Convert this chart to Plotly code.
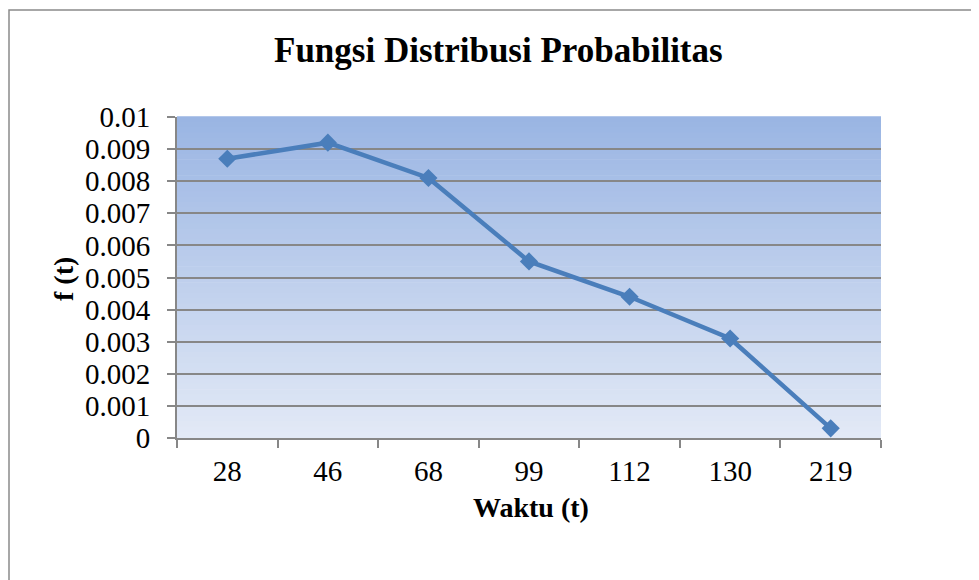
import plotly.graph_objects as go

categories = ["28", "46", "68", "99", "112", "130", "219"]
values = [0.0087, 0.0092, 0.0081, 0.0055, 0.0044, 0.0031, 0.0003]
y_tick_vals = [0, 0.001, 0.002, 0.003, 0.004, 0.005, 0.006, 0.007, 0.008, 0.009, 0.01]
y_tick_text = ["0", "0.001", "0.002", "0.003", "0.004", "0.005", "0.006", "0.007", "0.008", "0.009", "0.01"]

FONT = "Liberation Serif"
LINE_BLUE = "rgb(74,126,187)"
GRID = "#878787"

# page body has an 8px margin; work in figure coords (page coords minus 8)
OFF = 8
W, H = 979 - OFF, 580 - OFF
L, R, T, B = 177 - OFF, 98, 117 - OFF, 142
PW, PH = W - L - R, H - T - B


def px(xp):
    return (xp - OFF - L) / PW


def py(yp):
    return (H - B - (yp - OFF)) / PH


fig = go.Figure()
fig.add_trace(go.Scatter(
    x=categories, y=values, mode="lines+markers",
    line=dict(color=LINE_BLUE, width=4.5),
    marker=dict(symbol="diamond", size=14, color=LINE_BLUE),
    showlegend=False, hoverinfo="x+y",
))

# vertical gradient background for plot area
shapes = []
n = 60
top = (154, 181, 227)
bot = (226, 233, 246)
for i in range(n):
    t = i / (n - 1)
    c = tuple(round(top[k] + (bot[k] - top[k]) * t) for k in range(3))
    shapes.append(dict(
        type="rect", xref="x domain", yref="y domain",
        x0=0, x1=1, y0=1 - (i + 1) / n, y1=1 - i / n + 0.002,
        fillcolor="rgb(%d,%d,%d)" % c, line=dict(width=0), layer="below",
    ))
# outer chart border (left and top visible)
shapes.append(dict(
    type="rect", xref="paper", yref="paper",
    x0=px(9), x1=px(1000), y0=py(600), y1=py(10),
    line=dict(color="#8a8a8a", width=1.5), fillcolor="rgba(0,0,0,0)", layer="below",
))

fig.update_layout(
    width=W, height=H,
    margin=dict(l=L, r=R, t=T, b=B),
    paper_bgcolor="white", plot_bgcolor="rgba(0,0,0,0)",
    font=dict(family=FONT, size=29, color="black"),
    shapes=shapes,
    annotations=[
        dict(text="<b>Fungsi Distribusi Probabilitas</b>", xref="paper", yref="paper",
             x=px(498), y=py(50), xanchor="center", yanchor="middle",
             showarrow=False, font=dict(size=35, family=FONT, color="black")),
        dict(text="<b>Waktu (t)</b>", xref="paper", yref="paper",
             x=px(531), y=py(507), xanchor="center", yanchor="middle",
             showarrow=False, font=dict(size=28, family=FONT, color="black")),
        dict(text="<b>f (t)</b>", xref="paper", yref="paper", textangle=-90,
             x=px(63), y=py(279), xanchor="center", yanchor="middle",
             showarrow=False, font=dict(size=28, family=FONT, color="black")),
    ],
    xaxis=dict(
        type="category", range=[-0.5, 6.5], tickson="boundaries",
        ticks="outside", ticklen=8, tickwidth=2, tickcolor=GRID,
        showline=True, linecolor=GRID, linewidth=2,
        showgrid=False, zeroline=False, ticklabelstandoff=6,
        tickfont=dict(size=29, family=FONT, color="black"),
    ),
    yaxis=dict(
        range=[0, 0.01], tickvals=y_tick_vals, ticktext=y_tick_text,
        ticks="outside", ticklen=8, tickwidth=2, tickcolor=GRID,
        showline=True, linecolor=GRID, linewidth=2,
        showgrid=True, gridcolor=GRID, gridwidth=2, zeroline=False,
        ticklabelstandoff=11,
        tickfont=dict(size=29, family=FONT, color="black"),
    ),
)

fig.write_html("out.html")
